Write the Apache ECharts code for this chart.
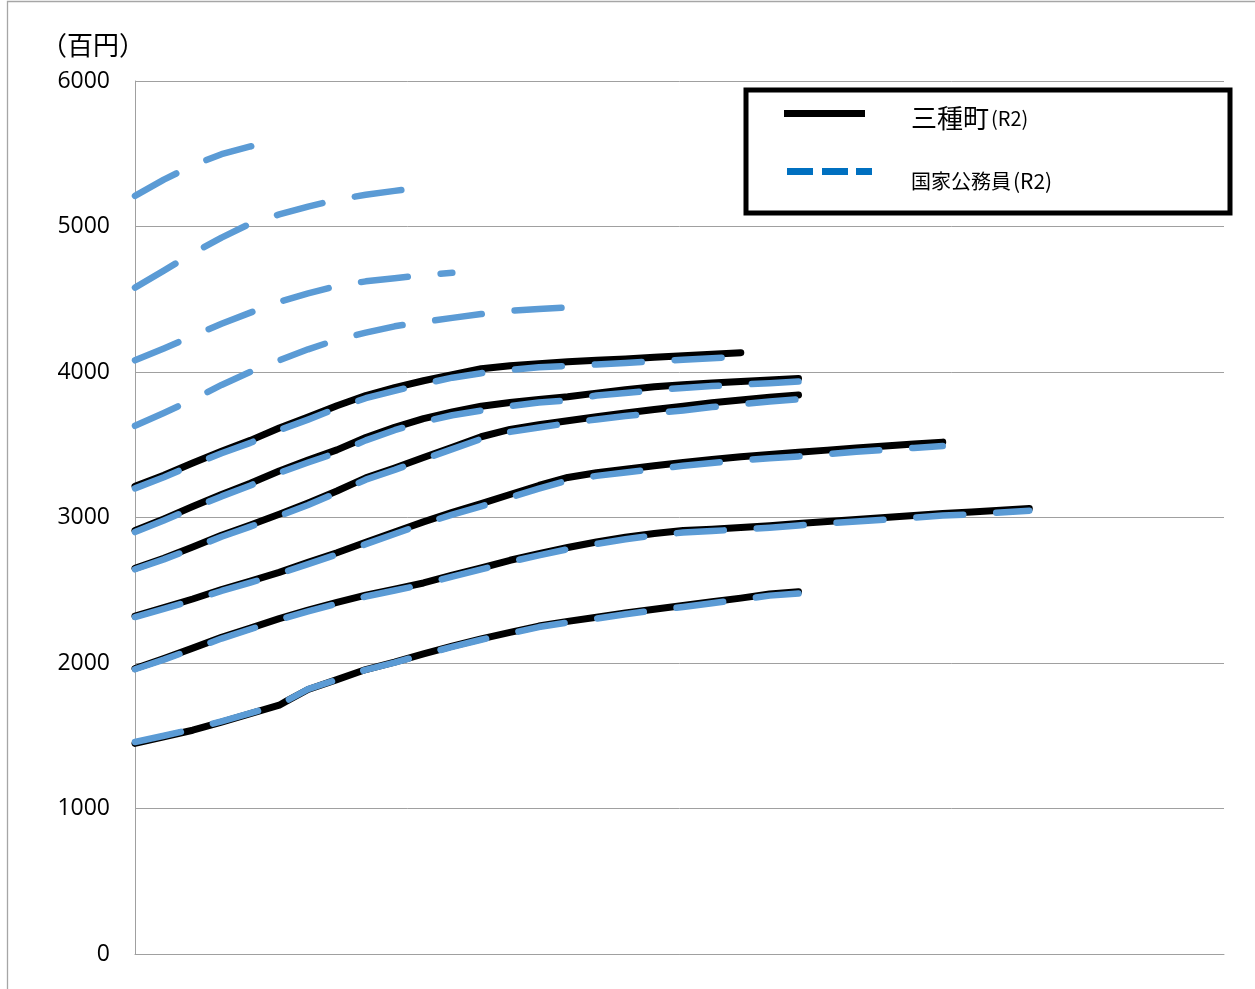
<!DOCTYPE html>
<html>
<head>
<meta charset="utf-8">
<style>
  html, body { margin: 0; padding: 0; background: #ffffff; }
  #chart { width: 1255px; height: 989px; }
</style>
<script src="https://cdn.jsdelivr.net/npm/echarts@6/dist/echarts.min.js"></script>
</head>
<body>
<div id="chart"></div>
<script>
// Step numbers (号給) at which each salary curve is sampled
const STEPS = [1, 5, 9, 13, 17, 21, 25, 29, 33, 37, 41, 45, 49, 53, 57, 61,
               65, 69, 73, 77, 81, 85, 89, 93, 97, 101, 105, 109, 113, 117, 121, 125];
// Grade 1 has an extra point where its increments change
const STEPS_G1 = [1, 5, 9, 13, 17, 21, 22, 25, 29, 33, 37, 41, 45, 49, 53, 57,
                  61, 65, 69, 73, 77, 81, 85, 89, 93];

// 三種町 (R2) monthly salary by grade, in 百円
const TOWN_G1 = [1447, 1493, 1538, 1594, 1652, 1710, 1738, 1818, 1886, 1955, 2006, 2062, 2116,
                 2166, 2210, 2254, 2286, 2314, 2344, 2370, 2395, 2421, 2446, 2474, 2490];
const TOWN_G2 = [1962, 2030, 2102, 2176, 2240, 2305, 2363, 2416, 2466, 2508, 2550, 2604, 2653,
                 2706, 2752, 2794, 2832, 2864, 2890, 2910, 2920, 2932, 2944, 2958, 2973, 2986,
                 3000, 3014, 3027, 3038, 3050, 3062];
const TOWN_G3 = [2322, 2380, 2440, 2505, 2562, 2623, 2692, 2758, 2830, 2900, 2970, 3035, 3095,
                 3158, 3220, 3275, 3308, 3332, 3356, 3378, 3398, 3417, 3433, 3448, 3463, 3478,
                 3492, 3505, 3518];
const TOWN_G4 = [2650, 2720, 2798, 2878, 2948, 3022, 3100, 3182, 3272, 3340, 3412, 3483, 3555,
                 3605, 3637, 3665, 3692, 3718, 3742, 3765, 3788, 3808, 3826, 3842];
const TOWN_G5 = [2910, 2990, 3075, 3158, 3235, 3320, 3395, 3465, 3550, 3620, 3680, 3725, 3765,
                 3790, 3812, 3830, 3855, 3878, 3898, 3912, 3925, 3935, 3945, 3956];
const TOWN_G6 = [3215, 3290, 3375, 3455, 3530, 3615, 3690, 3768, 3838, 3892, 3940, 3982, 4022,
                 4043, 4057, 4070, 4080, 4090, 4102, 4112, 4122, 4133];

// 国家公務員 (R2) monthly salary by grade, in 百円
const NATL_G1 = [1457, 1500, 1545, 1599, 1656, 1714, 1740, 1820, 1886, 1953, 2002, 2058, 2111,
                 2160, 2203, 2247, 2278, 2305, 2335, 2361, 2385, 2411, 2435, 2463, 2478];
const NATL_G2 = [1957, 2023, 2094, 2168, 2232, 2297, 2354, 2407, 2457, 2498, 2540, 2594, 2643,
                 2695, 2740, 2782, 2819, 2850, 2877, 2897, 2907, 2918, 2930, 2945, 2960, 2973,
                 2985, 2999, 3014, 3021, 3034, 3047];
const NATL_G3 = [2316, 2372, 2431, 2495, 2552, 2613, 2680, 2746, 2817, 2887, 2956, 3020, 3077,
                 3138, 3198, 3255, 3286, 3309, 3332, 3355, 3374, 3393, 3408, 3420, 3436, 3452,
                 3465, 3478, 3491];
const NATL_G4 = [2644, 2712, 2788, 2868, 2937, 3010, 3086, 3170, 3260, 3327, 3400, 3470, 3540,
                 3588, 3618, 3648, 3674, 3697, 3717, 3736, 3759, 3779, 3797, 3812];
const NATL_G5 = [2900, 2980, 3063, 3145, 3220, 3307, 3378, 3445, 3530, 3600, 3658, 3703, 3735,
                 3766, 3790, 3805, 3838, 3856, 3875, 3890, 3903, 3914, 3922, 3934];
const NATL_G6 = [3200, 3277, 3361, 3442, 3513, 3600, 3673, 3750, 3820, 3870, 3918, 3961, 3992,
                 4015, 4032, 4042, 4052, 4062, 4073, 4085, 4095, 4105];
const NATL_G7 = [3630, 3718, 3811, 3911, 4001, 4080, 4156, 4222, 4270, 4314, 4345, 4372, 4398,
                 4420, 4433, 4444];
const NATL_G8 = [4080, 4162, 4248, 4331, 4408, 4482, 4540, 4592, 4623, 4645, 4667, 4682];
const NATL_G9 = [4580, 4697, 4816, 4924, 5020, 5083, 5137, 5184, 5218, 5245, 5268];
const NATL_G10 = [5210, 5322, 5420, 5497, 5550, 5590];

// Y axis ticks (百円)
const Y_TICKS = [0, 1000, 2000, 3000, 4000, 5000, 6000];

const TOWN_NAME = '三種町(R2)';
const NATL_NAME = '国家公務員(R2)';

function pairs(steps, values) {
  return values.map((v, i) => [steps[i], v]);
}

const townSeries = [
  [STEPS_G1, TOWN_G1], [STEPS, TOWN_G2], [STEPS, TOWN_G3],
  [STEPS, TOWN_G4], [STEPS, TOWN_G5], [STEPS, TOWN_G6]
].map(([s, v]) => ({
  name: TOWN_NAME,
  type: 'line',
  data: pairs(s, v),
  showSymbol: false,
  symbol: 'none',
  color: '#000000',
  lineStyle: { color: '#000000', width: 7, cap: 'round', join: 'round' },
  silent: true
}));

const natlSeries = [
  [STEPS_G1, NATL_G1], [STEPS, NATL_G2], [STEPS, NATL_G3], [STEPS, NATL_G4],
  [STEPS, NATL_G5], [STEPS, NATL_G6], [STEPS, NATL_G7], [STEPS, NATL_G8],
  [STEPS, NATL_G9], [STEPS, NATL_G10]
].map(([s, v]) => ({
  name: NATL_NAME,
  type: 'line',
  data: pairs(s, v),
  showSymbol: false,
  symbol: 'none',
  color: '#5B9BD5',
  lineStyle: { color: '#5B9BD5', width: 6.5, type: [47, 33], cap: 'round', join: 'round' },
  silent: true
}));

const GRID_GRAY = '#A0A0A0';
const CJK = '"Noto Sans CJK JP", "Noto Sans CJK SC", sans-serif';

const chart = echarts.init(document.getElementById('chart'), null, { renderer: 'canvas' });

chart.setOption({
  animation: false,
  backgroundColor: '#ffffff',
  graphic: [
    {
      type: 'rect',
      shape: { x: 7.5, y: 1.5, width: 1300, height: 1100 },
      style: { fill: 'none', stroke: '#A6A6A6', lineWidth: 1.3 },
      silent: true
    },
    {
      type: 'text',
      left: 41,
      top: 32,
      style: { text: '（百円）', font: '26px ' + CJK, fill: '#000000' },
      silent: true
    }
  ],
  grid: { left: 135, right: 31, top: 81, bottom: 35, containLabel: false },
  legend: {
    left: 746,
    top: 90,
    orient: 'vertical',
    padding: [6, 73, 21, 38],
    itemGap: 20,
    itemWidth: 88,
    itemHeight: 7,
    selectedMode: false,
    backgroundColor: '#ffffff',
    borderColor: '#000000',
    borderWidth: 5,
    itemStyle: { borderWidth: 0 },
    data: [
      {
        name: TOWN_NAME,
        icon: 'path://M0,0H81V7H0Z M88,7',
        itemStyle: { color: '#000000', borderWidth: 0 }
      },
      {
        name: NATL_NAME,
        icon: 'path://M3,0H29V7H3Z M38,0H64V7H38Z M72,0H88V7H72Z M0,0',
        itemStyle: { color: '#0070C0', borderWidth: 0 }
      }
    ],
    formatter: function (name) {
      if (name === TOWN_NAME) return '{gap|}{big|三種町}{small|(R2)}';
      return '{gap|}{mid|国家公務員}{mid2|(R2)}';
    },
    textStyle: {
      width: 280,
      lineHeight: 30,
      color: '#000000',
      fontFamily: CJK,
      rich: {
        gap: { width: 34, lineHeight: 30 },
        big: { fontSize: 26, fontFamily: CJK, color: '#000000', lineHeight: 30, padding: [9, 0, 0, 0] },
        small: { fontSize: 20, fontFamily: CJK, color: '#000000', lineHeight: 30, padding: [10, 0, 0, 2] },
        mid: { fontSize: 20, fontFamily: CJK, color: '#000000', lineHeight: 30, padding: [20, 0, 0, 0] },
        mid2: { fontSize: 21, fontFamily: CJK, color: '#000000', lineHeight: 30, padding: [20, 0, 0, 2] }
      }
    }
  },
  xAxis: {
    type: 'value',
    min: 1,
    max: 152,
    axisLine: { show: true, onZero: false, lineStyle: { color: GRID_GRAY, width: 1 } },
    axisTick: { show: false },
    axisLabel: { show: false },
    splitLine: { show: false }
  },
  yAxis: {
    type: 'value',
    min: Y_TICKS[0],
    max: Y_TICKS[Y_TICKS.length - 1],
    interval: Y_TICKS[1] - Y_TICKS[0],
    axisLine: { show: true, lineStyle: { color: GRID_GRAY, width: 1 } },
    axisTick: { show: false },
    axisLabel: {
      margin: 25,
      fontSize: 23,
      fontFamily: '"Open Sans", "Liberation Sans", sans-serif',
      color: '#000000',
      formatter: function (v) { return String(v); }
    },
    splitLine: { show: true, lineStyle: { color: GRID_GRAY, width: 1 } }
  },
  series: townSeries.concat(natlSeries)
});
</script>
</body>
</html>
